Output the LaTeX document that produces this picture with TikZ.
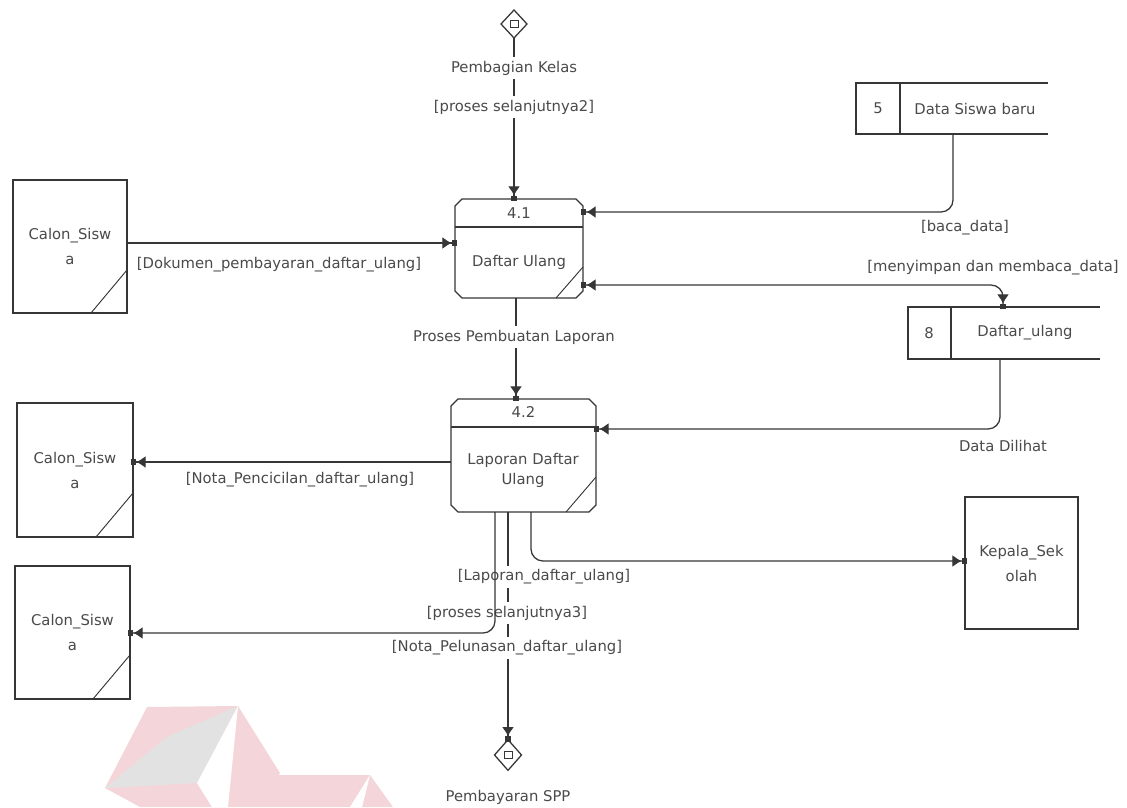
\documentclass[tikz,border=0pt]{standalone}
\usepackage{fontspec}
\setmainfont{DejaVu Sans}
\usetikzlibrary{arrows.meta,shapes.geometric,calc}
\definecolor{ln}{HTML}{363636}
\definecolor{tx}{HTML}{4A4A4A}
\definecolor{wmpink}{HTML}{F4D6DA}
\definecolor{wmgray}{HTML}{E2E2E2}
\begin{document}
\begin{tikzpicture}[x=0.75pt,y=-0.75pt,line width=0.95pt,
  every node/.style={text=tx,font=\fontsize{11.1}{18.75}\selectfont},
  shp/.style={inner sep=0pt,outer sep=0pt},
  ext/.style={shp,draw=ln,align=center},
  lbl/.style={inner xsep=1pt,inner ysep=3pt},
  wlbl/.style={lbl,fill=white},
  flow/.style={draw=ln,-{Latex[length=7pt,width=9pt]Rectangle[length=4pt,width=5pt,sep=-1.5pt]}},
  bflow/.style={draw=ln,{Rectangle[length=4pt,width=5pt,sep=-1.5pt]Latex[length=7pt,width=9pt]}-{Latex[length=7pt,width=9pt]Rectangle[length=4pt,width=5pt,sep=-1.5pt]}},
  plain/.style={draw=ln}]
\useasboundingbox[fill=white] (0,0) rectangle (1127,807);
% watermark
\fill[wmpink] (147,707) -- (238,706) -- (280,773) -- (262,807) -- (140,807) -- (105,788) -- cycle;
\fill[wmgray] (105,788) -- (167,737) -- (238,706) -- (197,783) -- cycle;
\fill[white] (238,706) -- (197,783) -- (212,807) -- (228,807) -- cycle;
\fill[wmpink] (275,775) -- (370,775) -- (393,807) -- (262,807) -- cycle;
\fill[white] (370,775) -- (350,807) -- (362,807) -- cycle;
% external entities
\node[ext,minimum width=85.5pt,minimum height=99.75pt] (cs1) at (70,246.5) {Calon\_Sisw\\a};
\node[ext,minimum width=87pt,minimum height=100.5pt] (cs2) at (75,470) {Calon\_Sisw\\a};
\node[ext,minimum width=86.25pt,minimum height=99.75pt] (cs3) at (72.5,632.5) {Calon\_Sisw\\a};
\node[ext,minimum width=84.75pt,minimum height=99pt] (kep) at (1021.5,563) {Kepala\_Sek\\olah};
\draw[ln,line width=0.7pt] ($(cs1.south east)+(0,-43)$) -- ($(cs1.south east)+(-36,0)$);
\draw[ln,line width=0.7pt] ($(cs2.south east)+(0,-44)$) -- ($(cs2.south east)+(-37,0)$);
\draw[ln,line width=0.7pt] ($(cs3.south east)+(0,-44)$) -- ($(cs3.south east)+(-37,0)$);
% processes
\node[shp,minimum width=96pt,minimum height=74.25pt] (p41) at (519,248.5) {};
\node[shp,minimum width=108.75pt,minimum height=84.75pt] (p42) at (523.5,455.5) {};
\foreach \p/\q in {p41/28,p42/28}{
  \draw[ln] ($(\p.north west)+(7,0)$) -- ($(\p.north east)+(-7,0)$) -- ($(\p.north east)+(0,7)$)
    -- ($(\p.south east)+(0,-7)$) -- ($(\p.south east)+(-7,0)$) -- ($(\p.south west)+(7,0)$)
    -- ($(\p.south west)+(0,-7)$) -- ($(\p.north west)+(0,7)$) -- cycle;
  \draw[ln] ($(\p.north west)+(0,\q)$) -- ($(\p.north east)+(0,\q)$);
}
\draw[ln,line width=0.7pt] ($(p41.south east)+(0,-31)$) -- ($(p41.south east)+(-27,0)$);
\draw[ln,line width=0.7pt] ($(p42.south east)+(0,-35)$) -- ($(p42.south east)+(-30,0)$);
\node (p41n) at ($(p41.north)+(0,14.5)$) {4.1};
\node (p41t) at (519,262) {Daftar Ulang};
\node (p42n) at ($(p42.north)+(0,13)$) {4.2};
\node[align=center,font=\fontsize{11.1}{15}\selectfont] (p42t) at (523,470) {Laporan Daftar\\Ulang};
% data stores
\node[shp,minimum width=144pt,minimum height=38.25pt] (ds5) at (952,108.5) {};
\draw[ln] (ds5.north east) -- (ds5.north west) -- (ds5.south west) -- (ds5.south east);
\draw[ln] ($(ds5.north west)+(44,0)$) -- ($(ds5.south west)+(44,0)$);
\node (ds5n) at (878,108.5) {5};
\node (ds5t) at (975,108.5) {Data Siswa baru};
\node[shp,minimum width=144pt,minimum height=39pt] (ds8) at (1004,333) {};
\draw[ln] (ds8.north east) -- (ds8.north west) -- (ds8.south west) -- (ds8.south east);
\draw[ln] ($(ds8.north west)+(43,0)$) -- ($(ds8.south west)+(43,0)$);
\node (ds8n) at (929,333) {8};
\node (ds8t) at (1025,333) {Daftar\_ulang};
% interface diamonds
\node[diamond,draw=ln,shp,minimum width=19.5pt,minimum height=21pt] (d1) at (514,24) {};
\node[draw=ln,shp,line width=0.7pt,minimum width=6pt,minimum height=5.25pt] (d1s) at (d1) {};
\node[diamond,draw=ln,shp,minimum width=20.25pt,minimum height=23pt] (d2) at (508,755) {};
\node[draw=ln,shp,line width=0.7pt,minimum width=6pt,minimum height=5.25pt] (d2s) at (d2) {};
\node (d2t) at (508,797) {Pembayaran SPP};
% connectors
\draw[flow] (d1.south) -- (d1.south |- p41.north);
\node[wlbl] (l1) at (514,68) {Pembagian Kelas};
\node[wlbl] (l2) at (514,107) {[proses selanjutnya2]};
\draw[flow] (cs1.east |- 0,243) -- (p41.west |- 0,243);
\node[lbl,anchor=west] (l3) at (135,265) {[Dokumen\_pembayaran\_daftar\_ulang]};
\draw[flow,rounded corners=9pt] (ds5.south -| 953,0) |- (p41.east |- 0,212);
\node[lbl] (l4) at (965,228) {[baca\_data]};
\draw[bflow,rounded corners=9pt] (p41.east |- 0,285) -| (ds8.north -| 1003,0);
\node[lbl] (l5) at (993,268) {[menyimpan dan membaca\_data]};
\draw[flow,rounded corners=9pt] (ds8.south -| 1000,0) |- (p42.east |- 0,429);
\node[lbl] (l6) at (1003,446) {Data Dilihat};
\draw[flow] (p41.south -| 516,0) -- (p42.north -| 516,0);
\node[wlbl] (l7) at (514,337) {Proses Pembuatan Laporan};
\draw[flow] (p42.west |- 0,462) -- (cs2.east |- 0,462);
\node[lbl] (l8) at (300,480) {[Nota\_Pencicilan\_daftar\_ulang]};
\draw[flow] (p42.south -| 508,0) -- (d2.north);
\node[wlbl] (l9) at (544,577) {[Laporan\_daftar\_ulang]};
\node[wlbl] (l10) at (507,613) {[proses selanjutnya3]};
\node[wlbl] (l11) at (507,648) {[Nota\_Pelunasan\_daftar\_ulang]};
\draw[flow,rounded corners=9pt] (p42.south -| 495,0) |- (cs3.east |- 0,633);
\draw[flow,rounded corners=9pt] (p42.south -| 531,0) |- (kep.west |- 0,561);
\end{tikzpicture}
\end{document}
